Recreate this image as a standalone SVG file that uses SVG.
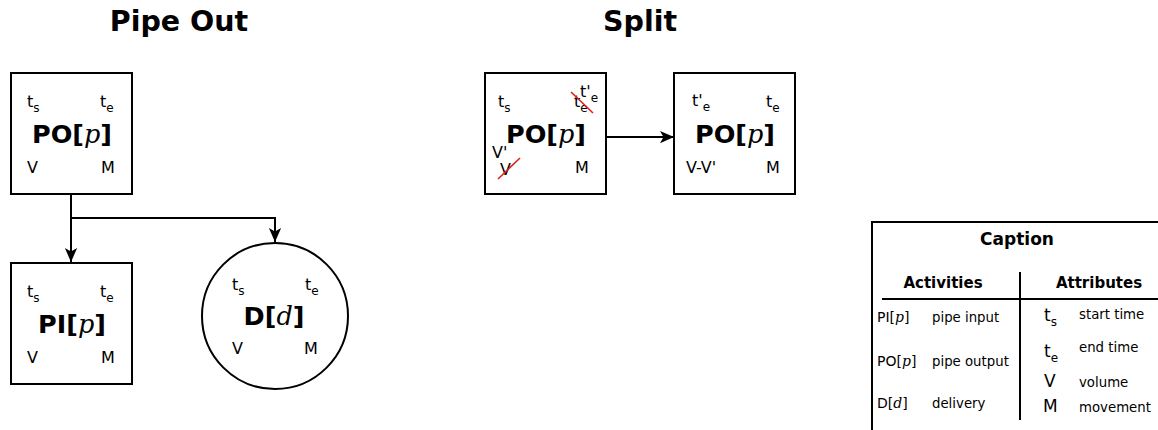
<svg xmlns="http://www.w3.org/2000/svg" width="1158" height="430" viewBox="0 0 1158 430">
<defs>
<marker id="ah" markerWidth="14" markerHeight="16" viewBox="0 0 16 14" refX="16" refY="7" orient="auto" markerUnits="userSpaceOnUse">
<path d="M0,0 L16,7 L0,14 L4,7 Z" fill="#000"/>
</marker>
<style>
.box{fill:#fff;stroke:#000;stroke-width:2}
.conn{fill:none;stroke:#000;stroke-width:2}
.title{font-family:"DejaVu Sans",sans-serif;font-weight:bold;font-size:28.5px;fill:#000}
.attr{font-family:"DejaVu Sans",sans-serif;font-size:16px;fill:#000}
.sub{font-size:12px}
.name{font-family:"DejaVu Sans",sans-serif;font-weight:bold;font-size:25.5px;fill:#000}
.mi{font-family:"DejaVu Serif",serif;font-style:italic;font-weight:normal}
.strike{stroke:#e0201c;stroke-width:1.6}
.cap{font-family:"DejaVu Sans",sans-serif;fill:#000}
.capt{font-weight:bold;font-size:17px}
.caph{font-weight:bold;font-size:15px}
.capi{font-size:13.3px}
.capl{font-size:14px}
.caps{font-size:17px}
</style>
</defs>

<text class="title" x="179" y="31" text-anchor="middle">Pipe Out</text>
<text class="title" x="640" y="31" text-anchor="middle">Split</text>

<g id="connectors">
<path class="conn" d="M71,194 V262" marker-end="url(#ah)"/>
<path class="conn" d="M71,218 H275 V242" marker-end="url(#ah)"/>
<path class="conn" d="M606,137 H674" marker-end="url(#ah)"/>
</g>

<g id="po-pipeout">
<rect class="box" x="11" y="73" width="121" height="121"/>
<text class="attr" x="27" y="107">t<tspan class="sub" dy="5">s</tspan></text>
<text class="attr" x="100" y="107">t<tspan class="sub" dy="5">e</tspan></text>
<text class="name" x="72" y="143" text-anchor="middle">PO[<tspan class="mi">p</tspan>]</text>
<text class="attr" x="27" y="173">V</text>
<text class="attr" x="101" y="173">M</text>
</g>

<g id="pi">
<rect class="box" x="11" y="263" width="121" height="121"/>
<text class="attr" x="27" y="297">t<tspan class="sub" dy="5">s</tspan></text>
<text class="attr" x="100" y="297">t<tspan class="sub" dy="5">e</tspan></text>
<text class="name" x="72" y="333" text-anchor="middle">PI[<tspan class="mi">p</tspan>]</text>
<text class="attr" x="27" y="363">V</text>
<text class="attr" x="101" y="363">M</text>
</g>

<g id="d">
<circle class="box" cx="275" cy="316" r="73"/>
<text class="attr" x="232" y="290">t<tspan class="sub" dy="5">s</tspan></text>
<text class="attr" x="305" y="290">t<tspan class="sub" dy="5">e</tspan></text>
<text class="name" x="274" y="325" text-anchor="middle">D[<tspan class="mi">d</tspan>]</text>
<text class="attr" x="232" y="354">V</text>
<text class="attr" x="304" y="354">M</text>
</g>

<g id="po-split-1">
<rect class="box" x="485" y="73" width="121" height="121"/>
<text class="attr" x="498" y="107">t<tspan class="sub" dy="5">s</tspan></text>
<text class="attr" x="574" y="107">t<tspan class="sub" dy="5">e</tspan></text>
<text class="attr" x="580" y="97">t'<tspan class="sub" dy="5">e</tspan></text>
<line class="strike" x1="571" y1="92" x2="593" y2="113"/>
<text class="name" x="546" y="143" text-anchor="middle">PO[<tspan class="mi">p</tspan>]</text>
<text class="attr" x="492" y="158">V'</text>
<text class="attr" x="500" y="175">V</text>
<line class="strike" x1="498" y1="179" x2="520" y2="158"/>
<text class="attr" x="575" y="173">M</text>
</g>

<g id="po-split-2">
<rect class="box" x="674" y="73" width="121" height="121"/>
<text class="attr" x="692" y="106">t'<tspan class="sub" dy="5">e</tspan></text>
<text class="attr" x="766" y="107">t<tspan class="sub" dy="5">e</tspan></text>
<text class="name" x="735" y="143" text-anchor="middle">PO[<tspan class="mi">p</tspan>]</text>
<text class="attr" x="686" y="173">V-V'</text>
<text class="attr" x="766" y="173">M</text>
</g>

<g id="caption">
<rect class="box" x="872" y="222" width="300" height="220"/>
<text class="cap capt" x="1017" y="245" text-anchor="middle">Caption</text>
<text class="cap caph" x="943" y="288" text-anchor="middle">Activities</text>
<text class="cap caph" x="1099" y="288" text-anchor="middle">Attributes</text>
<line class="conn" x1="882" y1="299" x2="1160" y2="299"/>
<line class="conn" x1="1020" y1="272" x2="1020" y2="420"/>
<text class="cap capl" x="877" y="322">PI[<tspan class="mi">p</tspan>]</text>
<text class="cap capi" x="932" y="322">pipe input</text>
<text class="cap capl" x="877" y="366">PO[<tspan class="mi">p</tspan>]</text>
<text class="cap capi" x="932" y="366">pipe output</text>
<text class="cap capl" x="877" y="408">D[<tspan class="mi">d</tspan>]</text>
<text class="cap capi" x="932" y="408">delivery</text>
<text class="cap caps" x="1044" y="321">t<tspan font-size="12" dy="5">s</tspan></text>
<text class="cap capi" x="1079" y="319">start time</text>
<text class="cap caps" x="1044" y="357">t<tspan font-size="12" dy="5">e</tspan></text>
<text class="cap capi" x="1079" y="352">end time</text>
<text class="cap caps" x="1044" y="387">V</text>
<text class="cap capi" x="1079" y="387">volume</text>
<text class="cap caps" x="1043" y="412">M</text>
<text class="cap capi" x="1079" y="412">movement</text>
</g>
</svg>
